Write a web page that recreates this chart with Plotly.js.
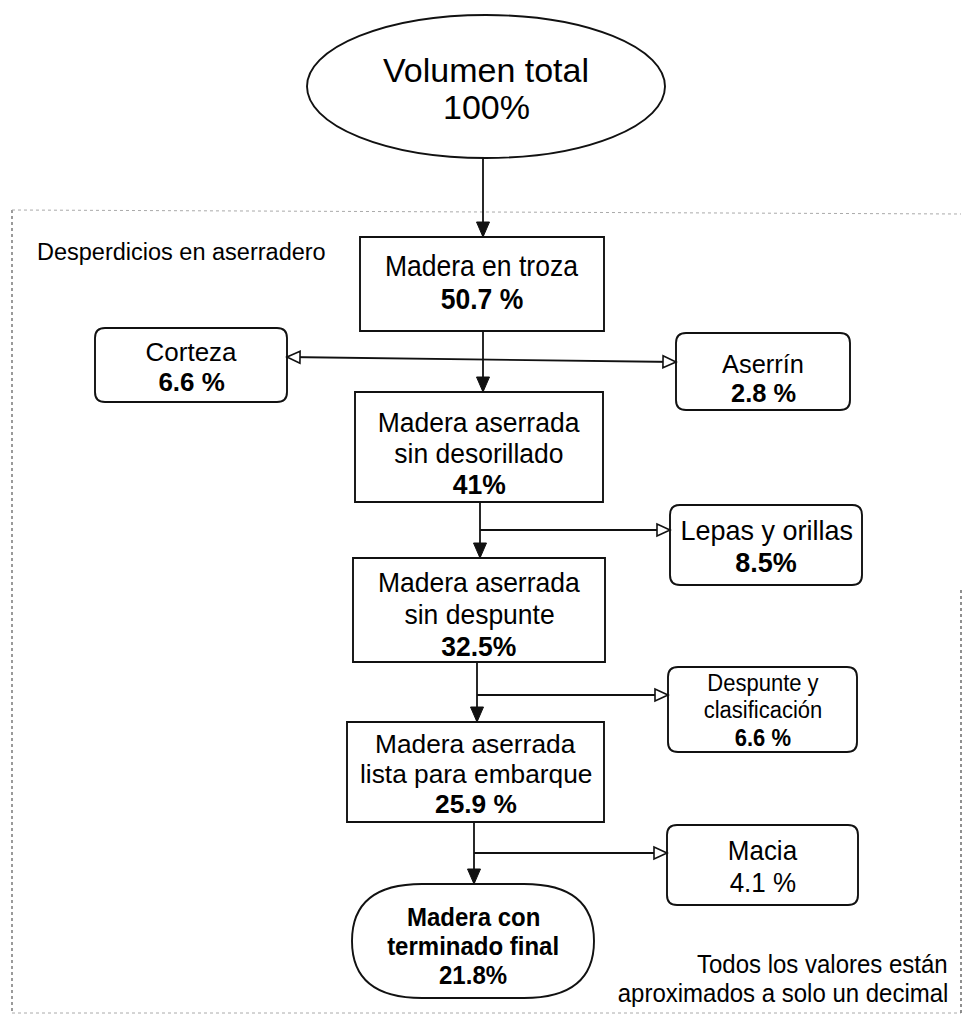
<!DOCTYPE html>
<html>
<head>
<meta charset="utf-8">
<script src="https://cdn.plot.ly/plotly-3.0.1.min.js"></script>
<style>html,body{margin:0;padding:0;background:#fff;}#chart{width:968px;height:1023px;}</style>
</head>
<body>
<div id="chart"></div>
<script>
// ---------- DATA ----------
const mainNames = ['Volumen total', 'Madera en troza', 'Madera aserrada<br>sin desorillado',
  'Madera aserrada<br>sin despunte', 'Madera aserrada<br>lista para embarque', 'Madera con<br>terminado final'];
const mainValues = ['100%', '50.7 %', '41%', '32.5%', '25.9 %', '21.8%'];
const wasteNames = ['Corteza', 'Aserrín', 'Lepas y orillas', 'Despunte y<br>clasificación', 'Macia'];
const wasteValues = ['6.6 %', '2.8 %', '8.5%', '6.6 %', '4.1 %'];
const groupLabel = 'Desperdicios en aserradero';
const noteLines = ['Todos los valores están', 'aproximados a solo un decimal'];

// ---------- FONTS ----------
const REG = 'Liberation Sans, Arial, sans-serif';
const CF = 0.86;     // desired horizontal condensing (reference uses a narrow face)
const LH = 1.14;     // text box height / font size, keeps stacked lines from overlapping
function regFont(size) { return {family: REG, size: size, color: '#000'}; }
// returns [fontSize, horizontalScale] that give the wanted width with the tallest text the gap allows
function fit(widthSize, gap) {
  const f = Math.min(widthSize / CF, gap / LH);
  return [f, Math.min(1, widthSize / f)];
}

// ---------- LAYOUT GEOMETRY (pixel-like data space) ----------
// [x0, y0, x1, y1, shape, widthSize, lineGap, textOffset, valueBold, namesBold, condensed]
const mainGeom = [
  [307, 15, 665, 158, 'ellipse', 34, 37, 2, false, false, false],
  [360, 237, 604, 331, 'rect', 26.5, 33, -2, true, false, true],
  [355, 392, 603, 502, 'rect', 26.5, 31, 6, true, false, true],
  [353, 558, 605, 662, 'rect', 26.5, 32, 4, true, false, true],
  [347, 722, 604, 822, 'rect', 26.5, 30, 2, true, false, true],
  [352, 884, 594, 998, 'stadium', 24, 29, 5, true, true, true]
];
// [x0, y0, x1, y1, widthSize, lineGap, textOffset, valueBold]
const wasteGeom = [
  [95, 328, 287, 402, 26, 30, 2, true],
  [676, 333, 850, 410, 26, 29, 7, true],
  [670, 505, 862, 585, 27, 32, 1, true],
  [668, 667, 857, 752, 22, 27.5, 0, true],
  [667, 825, 858, 905, 26, 32, 1, false]
];
// connectors: [tailX, tailY, headX, headY, doubleEnded, openHead]
const connectors = [
  [483, 158, 483, 237, false, false],
  [483, 331, 483, 392, false, false],
  [287, 357, 676, 362, true, true],
  [480, 502, 480, 558, false, false],
  [480, 530, 670, 530, false, true],
  [477, 662, 477, 722, false, false],
  [477, 695, 668, 695, false, true],
  [474, 822, 474, 884, false, false],
  [474, 853, 667, 853, false, true]
];

function rr(x0, y0, x1, y1, rx, ry) {
  return `M${x0 + rx},${y0} L${x1 - rx},${y0} Q${x1},${y0} ${x1},${y0 + ry} L${x1},${y1 - ry} Q${x1},${y1} ${x1 - rx},${y1} ` +
    `L${x0 + rx},${y1} Q${x0},${y1} ${x0},${y1 - ry} L${x0},${y0 + ry} Q${x0},${y0} ${x0 + rx},${y0} Z`;
}
function head(tx, ty, hx, hy, len, hw) {
  const dx = hx - tx, dy = hy - ty, L = Math.hypot(dx, dy);
  const ux = dx / L, uy = dy / L, px = -uy, py = ux;
  const bx = hx - ux * len, by = hy - uy * len;
  return `M${hx},${hy} L${bx + px * hw},${by + py * hw} L${bx - px * hw},${by - py * hw} Z`;
}

const shapes = [];
const annotations = [];
const condensed = [];   // [annotationIndex, anchor, scale]
const lineStyle = {color: '#111', width: 1.9};

// dotted frame
shapes.push({type: 'line', xref: 'x', yref: 'y', x0: 12, y0: 210, x1: 12, y1: 1013, line: {color: '#666', width: 1.3, dash: 'dot'}});
shapes.push({type: 'line', xref: 'x', yref: 'y', x0: 12, y0: 210, x1: 961, y1: 214, line: {color: '#aaa', width: 1, dash: 'dot'}});
shapes.push({type: 'line', xref: 'x', yref: 'y', x0: 12, y0: 1013, x1: 961, y1: 1013, line: {color: '#aaa', width: 1, dash: 'dot'}});
shapes.push({type: 'line', xref: 'x', yref: 'y', x0: 961, y0: 590, x1: 961, y1: 1013, line: {color: '#555', width: 1.3, dash: 'dot'}});

function addLines(lines, cx, cy, gap, size, boldFlags, cond) {
  const n = lines.length;
  const [f, sc] = cond ? fit(size, gap) : [size, 1];
  lines.forEach((t, i) => {
    if (cond && sc < 1) condensed.push([annotations.length, 'center', sc]);
    annotations.push({
      xref: 'x', yref: 'y', x: cx, y: cy + (i - (n - 1) / 2) * gap,
      text: boldFlags[i] ? '<b>' + t + '</b>' : t, showarrow: false,
      xanchor: 'center', yanchor: 'middle',
      font: regFont(f)
    });
  });
}

mainGeom.forEach((g, i) => {
  const [x0, y0, x1, y1, kind, fs, gap, off, vb, nb, cond] = g;
  if (kind === 'ellipse') {
    shapes.push({type: 'circle', xref: 'x', yref: 'y', x0, y0, x1, y1, line: lineStyle, fillcolor: 'rgba(0,0,0,0)'});
  } else if (kind === 'stadium') {
    shapes.push({type: 'path', xref: 'x', yref: 'y', path: rr(x0, y0, x1, y1, 70, (y1 - y0) / 2), line: lineStyle});
  } else {
    shapes.push({type: 'rect', xref: 'x', yref: 'y', x0, y0, x1, y1, line: lineStyle});
  }
  const nameLines = mainNames[i].split('<br>');
  const lines = nameLines.concat([mainValues[i]]);
  const bold = nameLines.map(() => nb).concat([vb]);
  addLines(lines, (x0 + x1) / 2, (y0 + y1) / 2 + off, gap, fs, bold, cond);
});

wasteGeom.forEach((g, i) => {
  const [x0, y0, x1, y1, fs, gap, off, vb] = g;
  shapes.push({type: 'path', xref: 'x', yref: 'y', path: rr(x0, y0, x1, y1, 10, 10), line: lineStyle});
  const nameLines = wasteNames[i].split('<br>');
  const lines = nameLines.concat([wasteValues[i]]);
  const bold = nameLines.map(() => false).concat([vb]);
  addLines(lines, (x0 + x1) / 2, (y0 + y1) / 2 + off, gap, fs, bold, true);
});

connectors.forEach(c => {
  const [tx, ty, hx, hy, dbl, open] = c;
  shapes.push({type: 'line', xref: 'x', yref: 'y', x0: tx, y0: ty, x1: hx, y1: hy, line: {color: '#111', width: 1.8}});
  const headStyle = open ? {line: {color: '#111', width: 1.6}, fillcolor: '#fff'}
                         : {line: {color: '#111', width: 1}, fillcolor: '#111'};
  const len = open ? 13 : 15, hw = open ? 6 : 6.5;
  shapes.push(Object.assign({type: 'path', xref: 'x', yref: 'y', path: head(tx, ty, hx, hy, len, hw)}, headStyle));
  if (dbl) shapes.push(Object.assign({type: 'path', xref: 'x', yref: 'y', path: head(hx, hy, tx, ty, len, hw)}, headStyle));
});

annotations.push({xref: 'x', yref: 'y', x: 35, y: 252, text: groupLabel, showarrow: false,
  xanchor: 'left', yanchor: 'middle', font: regFont(23.5)});
const [nf, ns] = fit(24, 29);
noteLines.forEach((t, i) => {
  if (ns < 1) condensed.push([annotations.length, 'right', ns]);
  annotations.push({xref: 'x', yref: 'y', x: 950, y: 964 + i * 29, text: t, showarrow: false,
    xanchor: 'right', yanchor: 'middle', align: 'right', font: regFont(nf)});
});

const layout = {
  width: 968, height: 1023,
  margin: {l: 0, r: 0, t: 0, b: 0, pad: 0},
  paper_bgcolor: '#fff', plot_bgcolor: '#fff',
  showlegend: false,
  xaxis: {range: [0, 968], visible: false, fixedrange: true},
  yaxis: {range: [1023, 0], visible: false, fixedrange: true},
  shapes: shapes,
  annotations: annotations
};
Plotly.newPlot('chart', [{x: [], y: [], type: 'scatter', mode: 'markers', hoverinfo: 'skip'}], layout,
  {staticPlot: true, displayModeBar: false}).then(gd => {
  condensed.forEach(([idx, anchor, sc]) => {
    const t = gd.querySelector('.annotation[data-index="' + idx + '"] text.annotation-text');
    if (!t) return;
    const bb = t.getBBox();
    const ax = anchor === 'right' ? bb.x + bb.width : bb.x + bb.width / 2;
    const prev = t.getAttribute('transform') || '';
    t.setAttribute('transform', (prev + ` translate(${ax},0) scale(${sc},1) translate(${-ax},0)`).trim());
  });
});
</script>
</body>
</html>
